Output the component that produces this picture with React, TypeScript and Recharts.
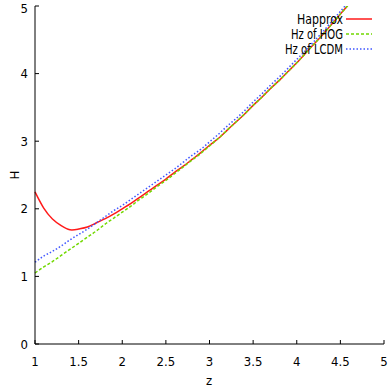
import { LineChart, Line, XAxis, YAxis, Legend } from 'recharts';

const zValues = [
  1.0, 1.1, 1.2, 1.3, 1.4, 1.5, 1.6, 1.7, 1.8, 1.9,
  2.0, 2.1, 2.2, 2.3, 2.4, 2.5, 2.6, 2.7, 2.8, 2.9,
  3.0, 3.1, 3.2, 3.3, 3.4, 3.5, 3.6, 3.7, 3.8, 3.9,
  4.0, 4.1, 4.2, 4.3, 4.4, 4.5, 4.6, 4.7,
];

const happrox = [
  2.25, 2.01, 1.85, 1.75, 1.69, 1.70, 1.73, 1.79, 1.85, 1.92,
  2.00, 2.08, 2.17, 2.26, 2.35, 2.44, 2.54, 2.63, 2.73, 2.83,
  2.94, 3.04, 3.16, 3.28, 3.40, 3.53, 3.65, 3.78, 3.90, 4.03,
  4.16, 4.30, 4.44, 4.58, 4.73, 4.88, 5.03, 5.18,
];

const hzHog = [
  1.05, 1.14, 1.22, 1.31, 1.40, 1.49, 1.58, 1.67, 1.77, 1.86,
  1.95, 2.04, 2.14, 2.23, 2.33, 2.42, 2.52, 2.62, 2.72, 2.82,
  2.93, 3.04, 3.16, 3.28, 3.40, 3.53, 3.65, 3.78, 3.90, 4.03,
  4.16, 4.30, 4.44, 4.58, 4.73, 4.88, 5.03, 5.18,
];

const hzLcdm = [
  1.21, 1.30, 1.37, 1.45, 1.54, 1.62, 1.70, 1.79, 1.88, 1.97,
  2.05, 2.14, 2.23, 2.32, 2.41, 2.50, 2.59, 2.69, 2.79, 2.88,
  2.99, 3.10, 3.22, 3.33, 3.45, 3.58, 3.70, 3.83, 3.95, 4.08,
  4.21, 4.34, 4.48, 4.62, 4.77, 4.92, 5.07, 5.22,
];

const xTicks = [1, 1.5, 2, 2.5, 3, 3.5, 4, 4.5, 5];
const yTicks = [0, 1, 2, 3, 4, 5];

// label widths (narrow font)
const series = [
  { key: 'happrox', name: 'Happrox', color: '#ff1a1a', dash: undefined, textW: 46 },
  { key: 'hog', name: 'Hz of HOG', color: '#72d800', dash: '3 2', textW: 52 },
  { key: 'lcdm', name: 'Hz of LCDM', color: '#3f55ff', dash: '1.5 2', textW: 58 },
];

const data = zValues.map((z, i) => ({
  z,
  happrox: happrox[i],
  hog: hzHog[i],
  lcdm: hzLcdm[i],
}));

const FONT = '"Liberation Sans Narrow", "DejaVu Sans Condensed", "Liberation Sans", sans-serif';
const tickStyle = { fontSize: 13, fill: '#000', fontFamily: FONT };

const renderLegend = () => (
  <svg width={388} height={60} style={{ display: 'block' }}>
    {series.map((s, i) => (
      <g key={s.key}>
        <text
          x={343}
          y={19 + i * 15}
          textAnchor="end"
          dominantBaseline="central"
          fontSize={14}
          fontFamily={FONT}
          textLength={s.textW}
          lengthAdjust="spacingAndGlyphs"
          fill="#000"
        >
          {s.name}
        </text>
        <line
          x1={346}
          x2={372}
          y1={19 + i * 15}
          y2={19 + i * 15}
          stroke={s.color}
          strokeWidth={1.5}
          strokeDasharray={s.dash}
        />
      </g>
    ))}
  </svg>
);

export default function App() {
  return (
    <div style={{ position: 'absolute', left: 0, top: 0, width: 388, height: 388, background: '#fff' }}>
      <LineChart width={388} height={388} data={data} margin={{ top: 6, right: 4, bottom: 0, left: 0 }}>
        <XAxis
          xAxisId="bottom"
          dataKey="z"
          type="number"
          domain={[1, 5]}
          ticks={xTicks}
          height={44}
          tickSize={-4}
          tickMargin={17}
          tick={tickStyle}
          stroke="#000"
          label={{
            content: () => (
              <text x={209} y={380} textAnchor="middle" dominantBaseline="central" fontSize={13} fontFamily={FONT}>
                z
              </text>
            ),
          }}
        />
        <XAxis
          xAxisId="top"
          orientation="top"
          dataKey="z"
          type="number"
          domain={[1, 5]}
          ticks={xTicks}
          height={0}
          tickSize={-4}
          tick={false}
          stroke="#000"
        />
        <YAxis
          yAxisId="left"
          type="number"
          domain={[0, 5]}
          ticks={yTicks}
          width={35}
          tickSize={-4}
          tickMargin={11}
          tick={tickStyle}
          allowDataOverflow
          stroke="#000"
          label={{
            content: () => (
              <text
                x={14}
                y={175}
                transform="rotate(-90 14 175)"
                textAnchor="middle"
                dominantBaseline="central"
                fontSize={13}
                fontFamily={FONT}
              >
                H
              </text>
            ),
          }}
        />
        <YAxis
          yAxisId="right"
          orientation="right"
          type="number"
          domain={[0, 5]}
          ticks={yTicks}
          width={0}
          tickSize={-4}
          tick={false}
          stroke="#000"
        />
        <Legend
          verticalAlign="middle"
          layout="horizontal"
          wrapperStyle={{ top: 0, left: 0, width: 388, height: 60, pointerEvents: 'none' }}
          content={renderLegend}
        />
        {series.map((s) => (
          <Line
            key={s.key}
            xAxisId="bottom"
            yAxisId="left"
            type="natural"
            dataKey={s.key}
            name={s.name}
            stroke={s.color}
            strokeWidth={1.5}
            strokeDasharray={s.dash}
            dot={false}
            activeDot={false}
            isAnimationActive={false}
          />
        ))}
      </LineChart>
    </div>
  );
}
